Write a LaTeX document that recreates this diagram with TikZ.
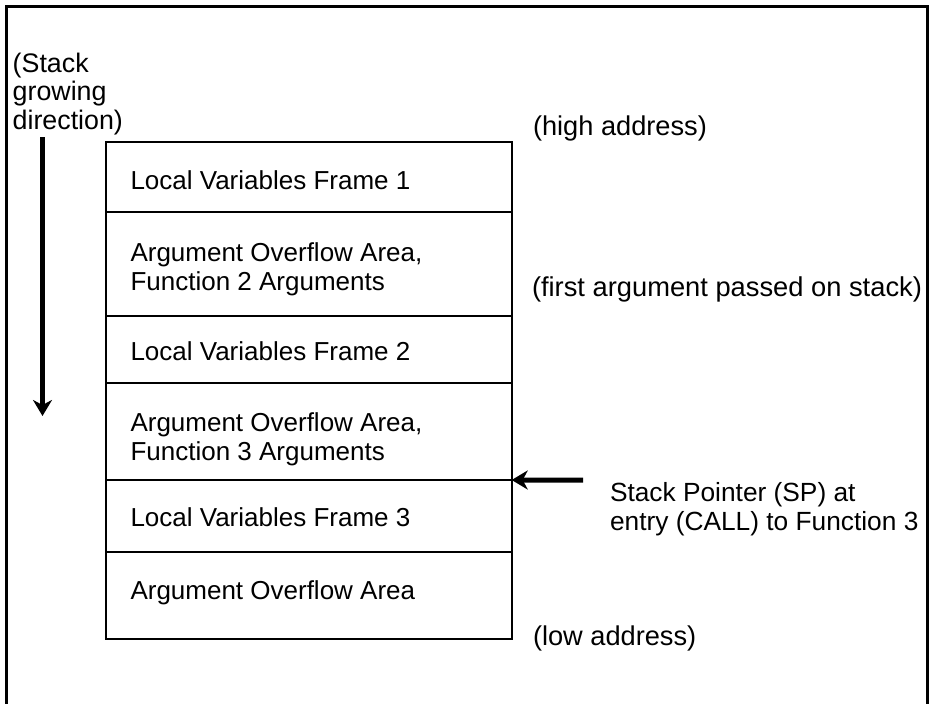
\documentclass[tikz,border=0pt]{standalone}
\usepackage{fontspec}
\setmainfont{Liberation Sans}
\usetikzlibrary{arrows.meta}
\begin{document}
\begin{tikzpicture}[x=1pt,y=-1pt,
  lbl/.style={font=\fontsize{26.8}{28.2}\selectfont, inner sep=0pt, outer sep=0pt, align=left, anchor=base west},
  boxtext/.style={font=\fontsize{26}{29}\selectfont, inner sep=0pt, outer sep=0pt, align=left, anchor=base west},
  rowbox/.style={draw, line width=2pt, anchor=north west, outer sep=0pt,
    minimum width=406pt, inner sep=0pt},
  bigarrow/.style={line width=5pt, -{Stealth[length=16pt,width=19pt,inset=5pt]}},
  framepath/.style={line width=2.5pt}
]
\useasboundingbox (0,0) rectangle (930,704);
\draw[framepath] (6.7,704) -- (6.7,6.7) -- (927.5,6.7) -- (927.5,704);

\node[rowbox, minimum height=70pt] (r1) at (105.7,141.7) {};
\node[rowbox, minimum height=104.3pt] (r2) at (r1.south west) {};
\node[rowbox, minimum height=67pt] (r3) at (r2.south west) {};
\node[rowbox, minimum height=97pt] (r4) at (r3.south west) {};
\node[rowbox, minimum height=72pt] (r5) at (r4.south west) {};
\node[rowbox, minimum height=87pt] (r6) at (r5.south west) {};

\node[boxtext] (t1) at (130.5,189) {Local Variables Frame 1};
\node[boxtext] (t2) at (130.5,290) {Argument Overflow Area,\\Function 2 Arguments};
\node[boxtext] (t3) at (130.5,360) {Local Variables Frame 2};
\node[boxtext] (t4) at (130.5,460) {Argument Overflow Area,\\Function 3 Arguments};
\node[boxtext] (t5) at (130.5,526) {Local Variables Frame 3};
\node[boxtext] (t6) at (130.5,599) {Argument Overflow Area};

\node[lbl] (stk) at (12.7,129) {(Stack\\growing\\direction)};
\node[lbl, font=\fontsize{27.2}{29}\selectfont] (hi) at (533,135) {(high address)};
\node[lbl, font=\fontsize{27.3}{29}\selectfont] (fa) at (532,296) {(first argument passed on stack)};
\node[lbl, font=\fontsize{26.3}{29}\selectfont] (sp) at (610,530) {Stack Pointer (SP) at\\entry (CALL) to Function 3};
\node[lbl, font=\fontsize{27.2}{29}\selectfont] (lo) at (533,645) {(low address)};

\coordinate (gtop) at (42.5,137);
\coordinate (gbot) at (42.5,416);
\draw[bigarrow] (gtop) -- (gbot);
\coordinate (sptail) at (583,480);
\draw[bigarrow] (sptail) -- (r5.north east);
\end{tikzpicture}
\end{document}
